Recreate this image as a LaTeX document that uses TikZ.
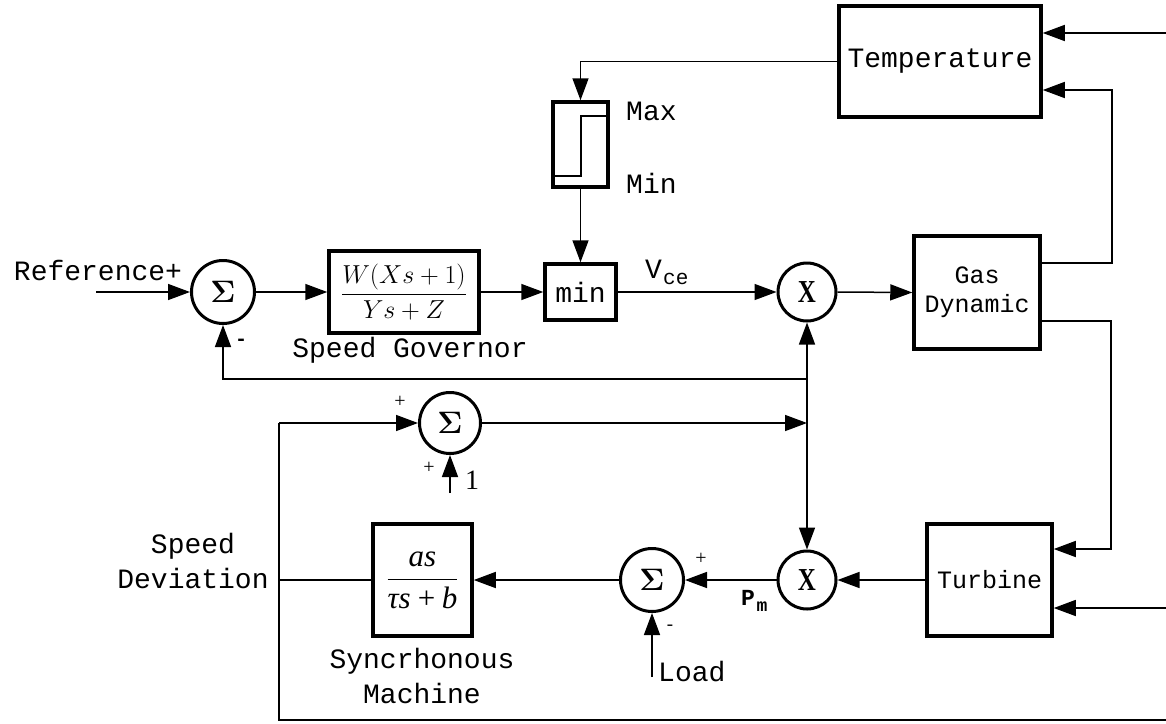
\RequirePackage{fix-cm}
\documentclass[tikz,border=0pt]{standalone}
\usepackage{amsmath}
\usepackage[no-math]{fontspec}
\newfontfamily\mono{Liberation Mono}
\newfontfamily\tms{Liberation Serif}
\usetikzlibrary{arrows.meta}
\newcommand{\sumsym}{{\fontsize{31}{34}\selectfont\boldmath$\Sigma$}}
\newcommand{\mulsym}{{\tms\bfseries\fontsize{32}{34}\selectfont\scalebox{0.78}[1]{X}}}
\tikzset{
  blk/.style={draw, line width=3.5pt, inner sep=0pt},
  sumc/.style={draw, circle, line width=3pt, minimum size=63pt, inner sep=0pt},
  mulc/.style={draw, circle, line width=3pt, minimum size=58pt, inner sep=0pt},
  conn/.style={line width=1.5pt},
  arr/.style={conn, -{Triangle[length=22pt,width=16pt]}},
  lbl/.style={font=\mono\fontsize{28}{35}\selectfont, inner sep=0pt, align=center},
  sgn/.style={font=\tms\fontsize{20}{24}\selectfont, inner sep=0pt},
}
\begin{document}
\begin{tikzpicture}[x=1pt,y=-1pt]
\useasboundingbox (0,0) rectangle (1166,723);
% blocks
\node[blk, minimum width=202pt, minimum height=111pt, font=\mono\fontsize{28}{34}\selectfont] (temp) at (940,61.5) {Temperature};
\node[blk, minimum width=55pt, minimum height=85pt] (lim) at (580.5,144.5) {};
\node[blk, minimum width=71pt, minimum height=56pt, font=\mono\fontsize{28}{34}\selectfont] (minb) at (580.5,292) {min};
\node[blk, minimum width=150pt, minimum height=82pt] (gov) at (404,292) {\fontsize{26}{30}\selectfont$\dfrac{W(Xs+1)}{Ys+Z}$};
\node[blk, minimum width=126pt, minimum height=113pt, font=\mono\fontsize{25}{29}\selectfont, align=center] (gas) at (977,292.5) {Gas\\Dynamic};
\node[blk, minimum width=125pt, minimum height=112pt, font=\mono\fontsize{25}{29}\selectfont] (turb) at (989.5,580) {Turbine};
\node[blk, minimum width=99pt, minimum height=112pt] (sync) at (422.5,580) {\fontsize{31}{36}\selectfont$\dfrac{\text{\tms\itshape as}}{\text{\tms\itshape τs\,+\,b}}$};
% summers and multipliers
\node[sumc] (s1) at (223,292) {\sumsym};
\node[sumc, minimum size=61pt] (s2) at (450,423) {\sumsym};
\node[sumc] (s3) at (652,580) {\sumsym};
\node[mulc] (x1) at (807,292) {\mulsym};
\node[mulc] (x2) at (807,580) {\mulsym};
% limiter step
\draw[conn] (551,176) -- (581,176) -- (581,116) -- (607,116);
% coordinates
\coordinate (tin1) at (1166,33);
\coordinate (tin2) at (1112,90);
\coordinate (gup) at (1112,263);
\coordinate (gdn) at (1111,321);
\coordinate (tbin) at (1111,549);
\coordinate (tbin2) at (1166,608);
\coordinate (ref) at (96,292);
\coordinate (fbR) at (807,379);
\coordinate (fbL) at (223,379);
\coordinate (jn) at (807,423);
\coordinate (sdTop) at (279,423);
\coordinate (sdMid) at (279,580);
\coordinate (sdBot) at (279,720);
\coordinate (botR) at (1166,720);
\coordinate (one) at (450,493);
\coordinate (load) at (652,677);
% connectors
\draw[arr] (tin1) -- (tin1 -| temp.east);
\draw[arr] (gup -| gas.east) -- (gup) -- (tin2) -- (tin2 -| temp.east);
\draw[arr] (gdn -| gas.east) -- (gdn) -- (tbin) -- (tbin -| turb.east);
\draw[arr] (tbin2) -- (tbin2 -| turb.east);
\draw[arr] (temp.west) -| (lim.north);
\draw[arr] (lim.south) -- (minb.north);
\draw[arr] (ref) -- (s1.west);
\draw[arr] (s1.east) -- (gov.west);
\draw[arr] (gov.east) -- (minb.west);
\draw[arr] (minb.east) -- (x1.west);
\draw[arr] (x1.east) -- (gas.west);
\draw[arr] (fbR) -- (fbL) -- (s1.south);
\draw[arr] (jn) -- (x1.south);
\draw[arr] (jn) -- (x2.north);
\draw[arr] (s2.east) -- (jn);
\draw[arr] (sdTop) -- (s2.west);
\draw[conn] (sdTop) -- (sdBot) -- (botR);
\draw[conn] (sync.west) -- (sdMid);
\draw[arr] (one) -- (s2.south);
\draw[arr] (turb.west) -- (x2.east);
\draw[arr] (x2.west) -- (s3.east);
\draw[arr] (s3.west) -- (sync.east);
\draw[arr] (load) -- (s3.south);
% labels
\node[lbl] (tref) at (98,270) {Reference+};
\node[lbl] (tgov) at (410,350) {Speed Governor};
\node[lbl, anchor=west] (tmax) at (626,111) {Max};
\node[lbl, anchor=west] (tmin) at (626,183) {Min};
\node[lbl, anchor=west] (tv) at (645,269) {V};
\node[font=\mono\fontsize{21}{24}\selectfont, inner sep=0pt, anchor=west] (tce) at (663,279) {ce};
\node[font=\mono\bfseries\fontsize{20}{24}\selectfont, inner sep=0pt] (m1) at (241,342) {-};
\node[sgn] (p1) at (400,402) {+};
\node[sgn] (p2) at (429,468) {+};
\node[font=\tms\fontsize{28}{30}\selectfont, inner sep=0pt] (t1) at (472,480) {1};
\node[lbl] (tsd) at (193,561) {Speed\\Deviation};
\node[lbl] (tsm) at (422,676) {Syncrhonous\\Machine};
\node[sgn] (p3) at (701,559) {+};
\node[font=\mono\fontsize{18}{22}\selectfont, inner sep=0pt] (m2) at (670,628) {-};
\node[lbl, anchor=west] (tload) at (658,672) {Load};
\node[font=\mono\bfseries\fontsize{23}{26}\selectfont, inner sep=0pt] (tp) at (748,598) {P};
\node[font=\mono\bfseries\fontsize{18}{22}\selectfont, inner sep=0pt] (tm) at (762,607) {m};
\end{tikzpicture}
\end{document}
